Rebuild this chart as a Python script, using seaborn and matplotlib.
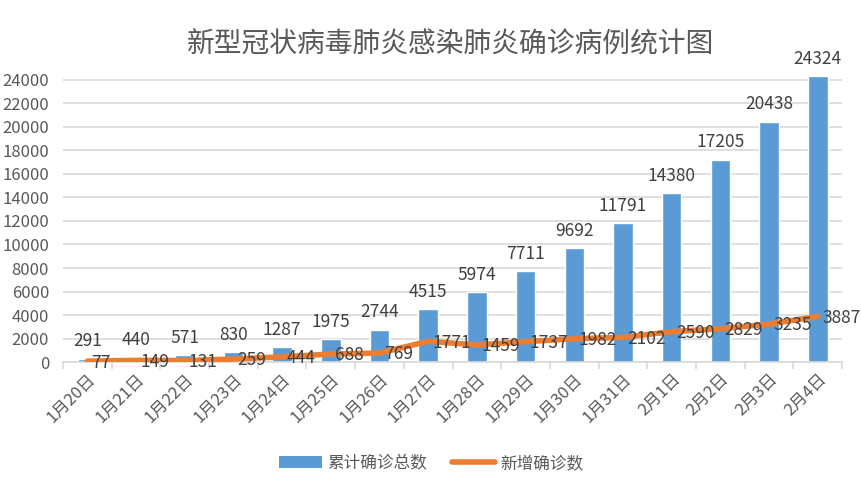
import numpy as np
import matplotlib
matplotlib.use("Agg")
import matplotlib.pyplot as plt
import seaborn as sns
from matplotlib.patches import Patch
from matplotlib.lines import Line2D

dates = ["1月20日", "1月21日", "1月22日", "1月23日", "1月24日", "1月25日",
         "1月26日", "1月27日", "1月28日", "1月29日", "1月30日", "1月31日",
         "2月1日", "2月2日", "2月3日", "2月4日"]
total_cases = [291, 440, 571, 830, 1287, 1975, 2744, 4515, 5974, 7711,
               9692, 11791, 14380, 17205, 20438, 24324]
new_cases = [77, 149, 131, 259, 444, 688, 769, 1771, 1459, 1737,
             1982, 2102, 2590, 2829, 3235, 3887]
yticks = list(range(0, 24001, 2000))

sns.set_theme(style="white")
plt.rcParams["font.family"] = ["Noto Sans CJK SC", "DejaVu Sans"]

text_color = "#595959"
blue = "#5B9BD5"
orange = "#ED7D31"
grid_color = "#D9D9D9"

fig = plt.figure(figsize=(8.62, 4.88), dpi=100)
ax = fig.add_axes([0.073, 0.258, 0.904, 0.588])

sns.barplot(x=dates, y=total_cases, color=blue, width=0.4, saturation=1,
            ax=ax, zorder=2)
pos = np.arange(len(dates))
sns.lineplot(x=pos, y=new_cases, color=orange, linewidth=4, ax=ax,
             zorder=3, solid_capstyle="round", solid_joinstyle="round")

# data labels
for i, v in enumerate(total_cases):
    ax.annotate(str(v), (i, v), xytext=(0, 6), textcoords="offset points",
                ha="center", va="bottom", fontsize=12.5, color="#404040")
for i, v in enumerate(new_cases):
    ax.annotate(str(v), (i, v), xytext=(3, -1), textcoords="offset points",
                ha="left", va="center", fontsize=12.5, color="#404040", zorder=4)

ax.set_xlim(-0.5, len(dates) - 0.5)
ax.set_ylim(0, 24400)
ax.set_yticks(yticks)
ax.set_yticklabels([str(t) for t in yticks], fontsize=12, color=text_color)
ax.yaxis.grid(True, color=grid_color, linewidth=1.2, zorder=0)
ax.set_axisbelow(True)

ax.set_xticks(pos)
ax.set_xticklabels(dates, rotation=45, ha="right", rotation_mode="anchor",
                   fontsize=12, color=text_color)
ax.set_xticks(np.arange(-0.5, len(dates), 1), minor=True)
ax.tick_params(axis="x", which="major", length=0, pad=6)
ax.tick_params(axis="x", which="minor", length=5, color=grid_color, width=1.2,
               bottom=True)
ax.tick_params(axis="y", length=0, pad=10)

for side in ["top", "right", "left"]:
    ax.spines[side].set_visible(False)
ax.spines["bottom"].set_color(grid_color)
ax.spines["bottom"].set_linewidth(1.2)
ax.set_xlabel("")
ax.set_ylabel("")

fig.suptitle("新型冠状病毒肺炎感染肺炎确诊病例统计图", fontsize=20,
             color=text_color, x=0.523, y=0.94)

handles = [Patch(facecolor=blue, edgecolor="none"),
           Line2D([0], [0], color=orange, linewidth=4, solid_capstyle="round")]
fig.legend(handles, ["累计确诊总数", "新增确诊数"], loc="center",
           bbox_to_anchor=(0.5, 0.05), ncol=2, frameon=False, fontsize=12,
           labelcolor=text_color, handlelength=2.6, handletextpad=0.3,
           columnspacing=1.5)

fig.savefig("out.png", dpi=100)
